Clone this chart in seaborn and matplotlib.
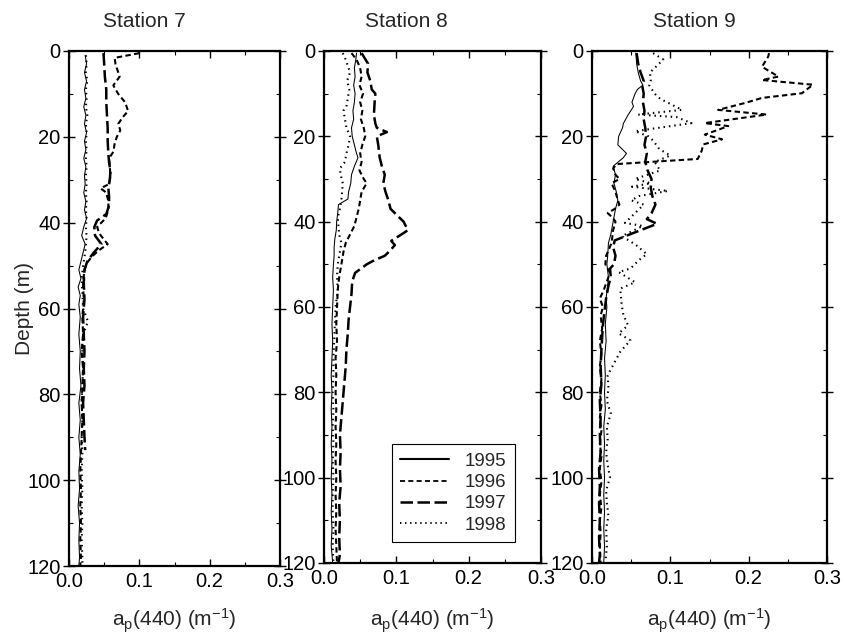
import numpy as np
import pandas as pd
import matplotlib
matplotlib.use("Agg")
import matplotlib.pyplot as plt
from matplotlib.lines import Line2D
from matplotlib.ticker import MultipleLocator, FormatStrFormatter
import seaborn as sns

# ---------------- data ----------------
stations = ["Station 7", "Station 8", "Station 9"]
years = [1995, 1996, 1997, 1998]

# Station 7
depth_s7_1995 = [1, 3, 5, 7, 9, 11, 13, 15, 17, 19, 21, 23, 25, 27, 29, 31, 33, 35, 37, 39, 41, 43, 45, 47,
                 49, 51, 53, 55, 57, 59, 62, 66, 70, 74, 78, 82, 86, 90, 94, 98, 102, 106, 110, 114, 118, 120]
ap_s7_1995 = [0.023, 0.025, 0.022, 0.025, 0.022, 0.024, 0.021, 0.024, 0.022, 0.025, 0.022, 0.024, 0.021,
              0.024, 0.022, 0.023, 0.021, 0.024, 0.022, 0.025, 0.021, 0.018, 0.023, 0.020, 0.017, 0.014,
              0.017, 0.013, 0.016, 0.014, 0.016, 0.014, 0.016, 0.015, 0.017, 0.014, 0.016, 0.014, 0.016,
              0.014, 0.015, 0.013, 0.015, 0.014, 0.015, 0.014]
depth_s7_1996 = [0.5, 1.6, 3, 5, 6, 8, 10, 12, 14, 15.5, 17, 18.5, 20, 21.5, 23.5, 25, 27, 29, 31, 32, 33,
                 35, 37, 39, 41, 42.5, 44, 45, 46.5, 48, 49.5, 51, 54, 58, 62, 66, 70, 74, 78, 82, 86, 90,
                 94, 98, 102, 106, 110, 114, 118, 120]
ap_s7_1996 = [0.100, 0.065, 0.066, 0.070, 0.072, 0.063, 0.070, 0.080, 0.084, 0.076, 0.070, 0.073, 0.068,
              0.065, 0.063, 0.057, 0.058, 0.059, 0.057, 0.045, 0.053, 0.056, 0.056, 0.052, 0.040, 0.043,
              0.050, 0.055, 0.042, 0.032, 0.025, 0.022, 0.020, 0.021, 0.019, 0.020, 0.018, 0.020, 0.019,
              0.018, 0.019, 0.018, 0.017, 0.016, 0.017, 0.016, 0.017, 0.016, 0.017, 0.016]
depth_s7_1997 = [0.5, 3, 6, 9, 12, 15, 18, 21, 24, 26, 28, 30, 32, 34, 36, 38, 39.5, 41, 43, 45, 47, 49,
                 51, 54, 58, 62, 66, 70, 74, 78, 82, 86, 90, 93]
ap_s7_1997 = [0.049, 0.050, 0.051, 0.053, 0.053, 0.054, 0.055, 0.055, 0.056, 0.057, 0.059, 0.058, 0.056,
              0.057, 0.057, 0.053, 0.040, 0.036, 0.037, 0.046, 0.035, 0.026, 0.022, 0.021, 0.022, 0.020,
              0.021, 0.022, 0.021, 0.022, 0.020, 0.021, 0.022, 0.023]
depth_s7_1998 = [1, 3, 5, 7, 9, 11, 13, 15, 17, 19, 21, 23, 25, 27, 29, 31, 33, 35, 37, 39, 41, 43, 45, 47,
                 50, 53, 56, 60, 63, 66, 70, 74, 78, 82, 86, 90, 94, 98, 102, 106, 110, 114, 118, 120]
ap_s7_1998 = [0.024, 0.025, 0.024, 0.026, 0.024, 0.025, 0.024, 0.026, 0.024, 0.025, 0.024, 0.025, 0.024,
              0.025, 0.024, 0.025, 0.024, 0.025, 0.024, 0.025, 0.024, 0.025, 0.024, 0.023, 0.020, 0.018,
              0.019, 0.020, 0.027, 0.020, 0.019, 0.020, 0.019, 0.018, 0.019, 0.018, 0.019, 0.018, 0.019,
              0.018, 0.019, 0.018, 0.019, 0.019]

# Station 8
depth_s8_1995 = [0.5, 2, 4, 6, 8, 10, 12, 14, 16, 18, 20, 22, 24, 25, 27, 29, 31, 33, 34.7, 36, 38, 40, 42,
                 44, 46, 48, 50, 53, 56, 60, 64, 68, 72, 76, 80, 84, 88, 92, 96, 100, 104, 108, 112, 116, 120]
ap_s8_1995 = [0.045, 0.044, 0.042, 0.043, 0.041, 0.043, 0.042, 0.040, 0.041, 0.038, 0.039, 0.042, 0.045,
              0.047, 0.042, 0.038, 0.037, 0.034, 0.033, 0.020, 0.019, 0.0175, 0.017, 0.015, 0.014, 0.014,
              0.013, 0.012, 0.013, 0.012, 0.011, 0.012, 0.011, 0.010, 0.011, 0.010, 0.011, 0.010, 0.011,
              0.010, 0.011, 0.010, 0.011, 0.010, 0.012]
depth_s8_1996 = [0.5, 2, 4, 6, 8, 10, 12, 14, 16, 18, 20, 22, 24, 26, 28, 30, 31, 33, 35, 37, 39, 41, 43,
                 45, 47, 50, 53, 56, 60, 64, 68, 72, 76, 80, 84, 88, 92, 96, 100, 104, 108, 112, 116, 120]
ap_s8_1996 = [0.038, 0.045, 0.050, 0.052, 0.049, 0.054, 0.050, 0.053, 0.051, 0.055, 0.057, 0.053, 0.050,
              0.052, 0.049, 0.055, 0.059, 0.052, 0.050, 0.048, 0.045, 0.042, 0.036, 0.030, 0.027, 0.024,
              0.021, 0.019, 0.018, 0.017, 0.018, 0.016, 0.017, 0.016, 0.017, 0.016, 0.017, 0.016, 0.017,
              0.016, 0.017, 0.016, 0.017, 0.018]
depth_s8_1997 = [0.5, 3, 5, 7, 9, 10, 12, 15, 17, 18, 19, 20, 22, 25, 27, 29, 31, 33, 35, 37, 38, 40, 42,
                 43, 44.5, 45.5, 47, 48, 49, 50, 52, 54, 57, 60, 63, 66, 70, 74, 78, 82, 86, 90, 94, 98,
                 102, 106, 110, 114, 118, 120]
ap_s8_1997 = [0.052, 0.061, 0.060, 0.064, 0.066, 0.071, 0.070, 0.069, 0.071, 0.073, 0.087, 0.073, 0.075,
              0.077, 0.080, 0.084, 0.082, 0.085, 0.089, 0.092, 0.098, 0.110, 0.116, 0.107, 0.093, 0.098,
              0.090, 0.084, 0.070, 0.059, 0.043, 0.039, 0.038, 0.036, 0.034, 0.033, 0.031, 0.030, 0.028,
              0.026, 0.024, 0.022, 0.023, 0.022, 0.023, 0.021, 0.022, 0.021, 0.022, 0.020]
depth_s8_1998 = [0.5, 2, 4, 5, 7, 9, 11, 13, 14, 16, 18, 20, 22, 24, 26, 27.5, 29, 31, 33, 35, 37, 39, 41,
                 43, 45, 47, 50, 53, 56, 60, 64, 68, 72, 76, 80, 84, 88, 92, 96, 100, 104, 108, 112, 116, 120]
ap_s8_1998 = [0.026, 0.030, 0.034, 0.036, 0.032, 0.035, 0.033, 0.031, 0.027, 0.029, 0.031, 0.036, 0.034,
              0.031, 0.029, 0.022, 0.023, 0.026, 0.025, 0.024, 0.022, 0.019, 0.020, 0.021, 0.024, 0.022,
              0.019, 0.018, 0.019, 0.016, 0.015, 0.014, 0.013, 0.013, 0.012, 0.013, 0.012, 0.013, 0.012,
              0.013, 0.012, 0.012, 0.013, 0.012, 0.013]

# Station 9
depth_s9_1995 = [0.5, 3, 5, 7, 8, 9, 10, 12, 13, 15, 17, 18, 20, 22, 24, 25, 27, 29, 31, 33, 35, 37, 40,
                 43, 45, 48, 50, 53, 55, 58, 60, 64, 68, 72, 76, 80, 84, 88, 92, 96, 100, 104, 108, 112,
                 116, 120]
ap_s9_1995 = [0.056, 0.057, 0.059, 0.062, 0.065, 0.058, 0.055, 0.051, 0.053, 0.046, 0.040, 0.039, 0.034,
              0.033, 0.044, 0.040, 0.027, 0.030, 0.028, 0.031, 0.033, 0.030, 0.027, 0.024, 0.021, 0.020,
              0.019, 0.021, 0.020, 0.018, 0.019, 0.017, 0.018, 0.016, 0.017, 0.016, 0.017, 0.015, 0.016,
              0.015, 0.016, 0.015, 0.016, 0.015, 0.016, 0.015]
depth_s9_1996 = [0.5, 1.3, 3.7, 6.0, 6.8, 7.9, 9.9, 11, 12.2, 13.8, 14.9, 15.7, 16.9, 17.6, 19.6, 20.7,
                 21.9, 23.4, 25.3, 26.5, 27.5, 29, 30, 31, 33, 35, 36, 37, 38, 39, 40, 42, 45, 48, 50, 52,
                 54, 56, 58, 60, 62, 65, 68, 71, 74, 77, 80, 83, 86, 89, 92, 95, 98, 101, 104, 107, 110,
                 113, 116, 120]
ap_s9_1996 = [0.226, 0.225, 0.217, 0.238, 0.217, 0.282, 0.268, 0.217, 0.195, 0.161, 0.223, 0.191, 0.144,
              0.174, 0.144, 0.166, 0.142, 0.140, 0.135, 0.0315, 0.027, 0.030, 0.035, 0.025, 0.030, 0.033,
              0.035, 0.029, 0.020, 0.026, 0.030, 0.027, 0.025, 0.018, 0.017, 0.023, 0.019, 0.015, 0.010,
              0.014, 0.011, 0.013, 0.010, 0.012, 0.010, 0.012, 0.010, 0.012, 0.010, 0.012, 0.010, 0.012,
              0.010, 0.012, 0.010, 0.012, 0.010, 0.011, 0.010, 0.011]
depth_s9_1997 = [0.5, 3, 5, 7, 8, 10, 12, 14, 16, 18, 20, 22, 24, 26, 28, 30, 32, 34, 36, 38, 39.4, 40.5,
                 42.5, 44.4, 46, 48, 50, 51, 53, 55, 58, 61, 64, 67, 70, 74, 78, 82, 86, 90, 94, 98, 102,
                 106, 110, 114, 118, 120]
ap_s9_1997 = [0.057, 0.059, 0.062, 0.066, 0.064, 0.066, 0.065, 0.067, 0.066, 0.068, 0.069, 0.067, 0.070,
              0.068, 0.071, 0.076, 0.075, 0.077, 0.081, 0.076, 0.070, 0.083, 0.055, 0.029, 0.027, 0.030,
              0.028, 0.023, 0.024, 0.021, 0.018, 0.016, 0.014, 0.013, 0.012, 0.011, 0.012, 0.010, 0.011,
              0.010, 0.011, 0.009, 0.010, 0.009, 0.010, 0.009, 0.010, 0.009]
depth_s9_1998 = [0.5, 2, 4, 5, 7, 8, 10, 11.2, 13.8, 14.9, 15.5, 16.9, 18.8, 20, 21, 23, 24.5, 26, 28, 30,
                 31, 31.8, 32.8, 34, 35, 36, 38, 40.3, 41, 43.4, 45.3, 47.6, 49, 51, 51.8, 54.2, 55.7,
                 59.6, 61.8, 64.3, 66.2, 67.8, 70.5, 73.6, 76, 79, 82, 85, 88, 91, 94, 97, 100, 103, 106,
                 109, 112, 116, 120]
ap_s9_1998 = [0.078, 0.091, 0.080, 0.074, 0.075, 0.073, 0.080, 0.087, 0.115, 0.059, 0.108, 0.127, 0.055,
              0.072, 0.078, 0.086, 0.100, 0.080, 0.087, 0.055, 0.075, 0.051, 0.097, 0.060, 0.050, 0.066,
              0.055, 0.042, 0.065, 0.038, 0.055, 0.070, 0.060, 0.049, 0.034, 0.055, 0.036, 0.038, 0.040,
              0.046, 0.034, 0.049, 0.036, 0.027, 0.020, 0.021, 0.019, 0.024, 0.019, 0.020, 0.018, 0.020,
              0.023, 0.018, 0.019, 0.021, 0.018, 0.019, 0.017]

series = {
    ("Station 7", 1995): (depth_s7_1995, ap_s7_1995),
    ("Station 7", 1996): (depth_s7_1996, ap_s7_1996),
    ("Station 7", 1997): (depth_s7_1997, ap_s7_1997),
    ("Station 7", 1998): (depth_s7_1998, ap_s7_1998),
    ("Station 8", 1995): (depth_s8_1995, ap_s8_1995),
    ("Station 8", 1996): (depth_s8_1996, ap_s8_1996),
    ("Station 8", 1997): (depth_s8_1997, ap_s8_1997),
    ("Station 8", 1998): (depth_s8_1998, ap_s8_1998),
    ("Station 9", 1995): (depth_s9_1995, ap_s9_1995),
    ("Station 9", 1996): (depth_s9_1996, ap_s9_1996),
    ("Station 9", 1997): (depth_s9_1997, ap_s9_1997),
    ("Station 9", 1998): (depth_s9_1998, ap_s9_1998),
}

rows = []
for (st, yr), (dep, ap) in series.items():
    for d, a in zip(dep, ap):
        rows.append({"station": st, "year": yr, "depth": d, "ap": a})
df = pd.DataFrame(rows)

# ---------------- styling ----------------
sns.set_style("ticks")
plt.rcParams["font.family"] = ["Liberation Sans", "DejaVu Sans"]
plt.rcParams["mathtext.fontset"] = "custom"
plt.rcParams["mathtext.rm"] = "Liberation Sans"
plt.rcParams["mathtext.it"] = "Liberation Sans"
plt.rcParams["mathtext.default"] = "rm"

line_styles = {
    1995: dict(lw=0.75, ls="-"),
    1996: dict(lw=1.5, ls=(0, (2.6, 1.6))),
    1997: dict(lw=1.8, ls=(0, (5.0, 1.8))),
    1998: dict(lw=1.5, ls=(0, (0.7, 1.9))),
}
legend_styles = {
    1995: dict(lw=1.5, ls="-"),
    1996: dict(lw=1.3, ls=(0, (2.8, 1.8))),
    1997: dict(lw=1.8, ls=(0, (5.0, 1.8))),
    1998: dict(lw=1.4, ls=(0, (0.7, 1.9))),
}

fig = plt.figure(figsize=(8.42, 6.36), dpi=100)
W, H = 842.0, 636.0
boxes = [(69, 51, 280, 566), (324, 51, 541, 563), (592, 51, 827, 563)]
title_x = [144.5, 406.5, 694.5]
tick_fs = 14.5
label_fs = 15

axes = []
for i, st in enumerate(stations):
    l, t, r, b = boxes[i]
    ax = fig.add_axes([l / W, 1 - b / H, (r - l) / W, (b - t) / H])
    axes.append(ax)
    sub = df[df["station"] == st]
    for yr in years:
        s = sub[sub["year"] == yr]
        sns.lineplot(data=s, x="ap", y="depth", sort=False, estimator=None,
                     color="black", ax=ax, legend=False,
                     linewidth=line_styles[yr]["lw"], linestyle=line_styles[yr]["ls"])
    ax.set_xlim(0, 0.3)
    ax.set_ylim(120, 0)
    ax.xaxis.set_major_locator(MultipleLocator(0.1))
    ax.xaxis.set_minor_locator(MultipleLocator(0.05))
    ax.yaxis.set_major_locator(MultipleLocator(20))
    ax.yaxis.set_minor_locator(MultipleLocator(10))
    ax.xaxis.set_major_formatter(FormatStrFormatter("%.1f"))
    ax.tick_params(axis="both", which="both", top=True, right=True, direction="in",
                   labelsize=tick_fs, color="black", labelcolor="black")
    ax.tick_params(axis="x", which="major", length=5, width=1.0, pad=4)
    ax.tick_params(axis="x", which="minor", length=3, width=0.8)
    ax.tick_params(axis="y", which="major", length=8, width=1.0, pad=2, direction="inout")
    ax.tick_params(axis="y", which="minor", length=3, width=0.8)
    for sp in ax.spines.values():
        sp.set_linewidth(1.6)
        sp.set_color("black")
    ax.set_xlabel(r"a$_{\mathregular{p}}$(440) (m$^{\mathregular{-1}}$)", fontsize=label_fs,
                  labelpad=(11.5 if i == 0 else 13.5))
    if i == 0:
        ax.set_ylabel("Depth (m)", fontsize=label_fs)
        ax.yaxis.set_label_coords(-0.165, 0.5)
    else:
        ax.set_ylabel("")
    fig.text(title_x[i] / W, 1 - 27 / H, st, ha="center", va="baseline", fontsize=15)

# legend in Station 8 panel
handles = [Line2D([0], [0], color="black", linewidth=legend_styles[y]["lw"],
                  linestyle=legend_styles[y]["ls"]) for y in years]
leg = axes[1].legend(handles, [str(y) for y in years], loc="lower right",
                     bbox_to_anchor=(0.88, 0.041), borderaxespad=0, fontsize=13.5,
                     frameon=True, fancybox=False, edgecolor="black", framealpha=1,
                     handlelength=2.6, handletextpad=0.85, labelspacing=0.22,
                     borderpad=0.45)
leg.get_frame().set_linewidth(0.8)

fig.savefig("out.png", dpi=100)
